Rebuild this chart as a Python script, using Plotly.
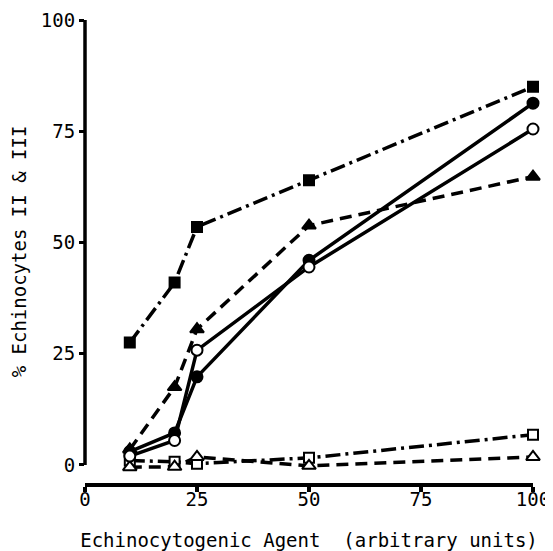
import plotly.graph_objects as go

x_vals = [10, 20, 25, 50, 100]
filled_square = [27.5, 41, 53.5, 64, 85]
filled_circle = [3, 7.2, 19.8, 46, 81.3]
open_circle = [2, 5.5, 25.8, 44.5, 75.5]
filled_triangle = [3.5, 17.5, 30.5, 53.8, 64.8]
open_square = [1, 0.7, 0.3, 1.6, 6.8]
open_triangle = [-0.5, -0.4, 1.8, -0.2, 1.8]

x_ticks = [0, 25, 50, 75, 100]
y_ticks = [0, 25, 50, 75, 100]

FONT = "DejaVu Sans Mono"
DASHDOT = "15px,5px,3px,5px"
DASH = "12px,7px"

series = [
    (filled_square, "square", "black", DASHDOT, 10),
    (open_square, "square", "white", DASHDOT, 10),
    (filled_triangle, "triangle-up", "black", DASH, 12),
    (open_triangle, "triangle-up", "white", DASH, 12),
    (filled_circle, "circle", "black", "solid", 11),
    (open_circle, "circle", "white", "solid", 11),
]

fig = go.Figure()
for vals, sym, fill, dash, size in series:
    fig.add_trace(go.Scatter(
        x=x_vals, y=vals, mode="lines+markers",
        line=dict(color="black", width=3.5, dash=dash),
        marker=dict(symbol=sym, size=size, color=fill,
                    line=dict(color="black", width=2)),
        cliponaxis=False, showlegend=False,
    ))

# detached y-axis line from 0 to 100
fig.add_shape(type="line", xref="paper", yref="y", x0=0, x1=0, y0=0, y1=100,
              line=dict(color="black", width=3.5))

fig.update_layout(
    width=545, height=543,
    margin=dict(l=77, r=20, t=12, b=68),
    plot_bgcolor="white", paper_bgcolor="white",
    font=dict(family=FONT, size=18, color="black"),
    xaxis=dict(range=[0, 100], tickvals=x_ticks, showgrid=False, zeroline=False,
               automargin=False, ticklabeloverflow="allow",
               ticklabelstandoff=-9,
               showline=True, linecolor="black", linewidth=3.5,
               ticks="outside", ticklen=5, tickwidth=3.5, tickcolor="black",
               tickfont=dict(family=FONT, size=19),
               title=dict(text="Echinocytogenic Agent  (arbitrary units)",
                          font=dict(family=FONT, size=19), standoff=26)),
    yaxis=dict(range=[-4.05, 100], tickvals=y_ticks, showgrid=False, zeroline=False,
               automargin=False,
               showline=False,
               ticks="outside", ticklen=5, tickwidth=3, tickcolor="black",
               tickfont=dict(family=FONT, size=19),
               title=dict(text="% Echinocytes II & III",
                          font=dict(family=FONT, size=19), standoff=24)),
)

fig.write_html("out.html")
